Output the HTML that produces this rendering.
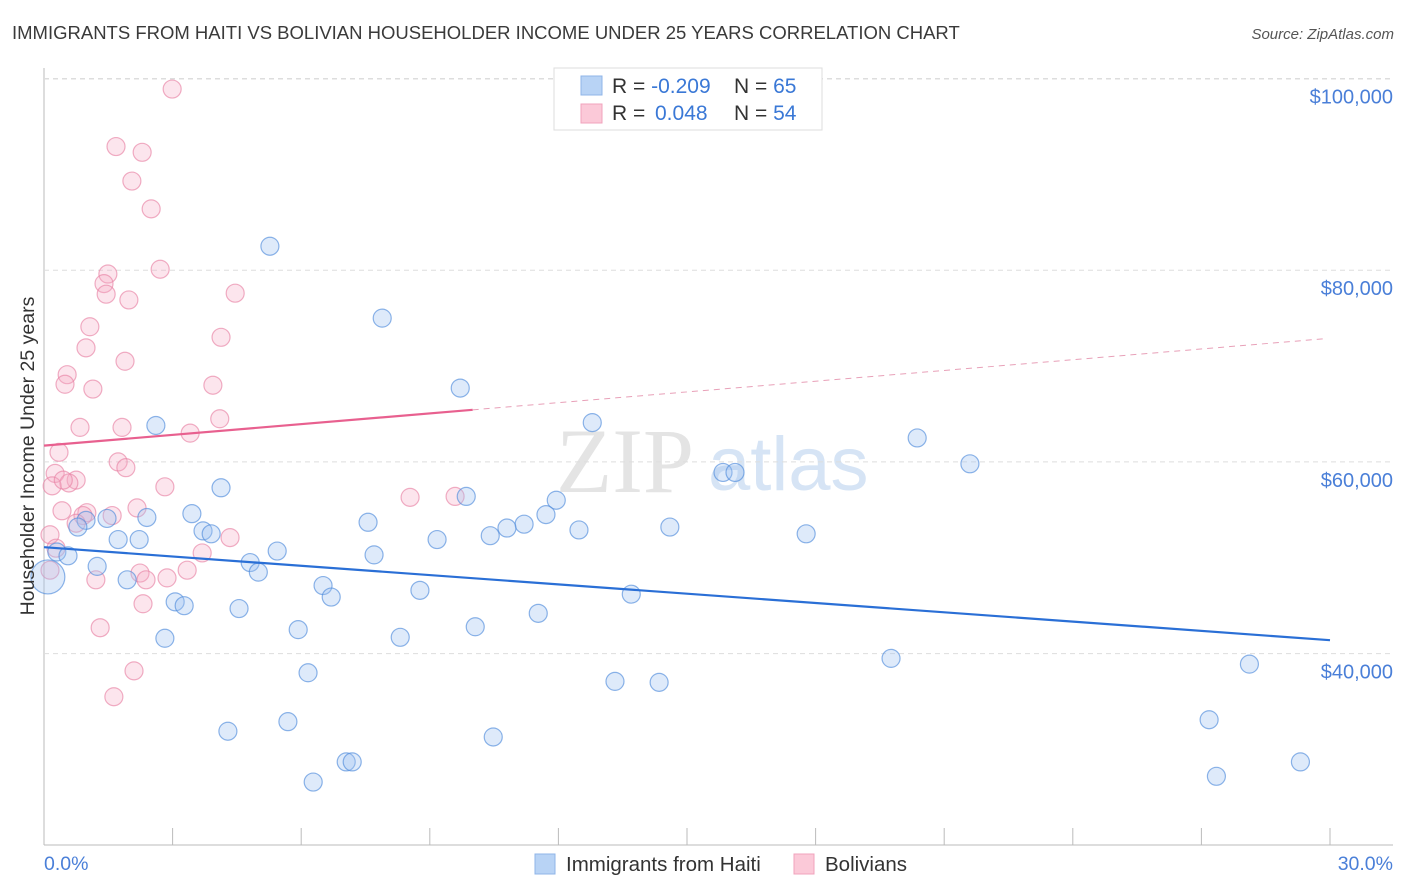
<!DOCTYPE html>
<html><head><meta charset="utf-8"><style>
body{margin:0;background:#fff;font-family:"Liberation Sans",sans-serif;}
svg{display:block}
</style></head><body>
<svg id="c" width="1406" height="892" xmlns="http://www.w3.org/2000/svg">
<text x="12" y="39" font-size="18.5" fill="#3a3a3a">IMMIGRANTS FROM HAITI VS BOLIVIAN HOUSEHOLDER INCOME UNDER 25 YEARS CORRELATION CHART</text>
<text x="1394" y="39" font-size="15" fill="#555" text-anchor="end" font-style="italic">Source: ZipAtlas.com</text>
<text x="556" y="492" font-size="92" fill="#e4e4e4" font-family="Liberation Serif,serif">ZIP</text>
<text x="708" y="490" font-size="76" fill="#d6e4f5">atlas</text>
<g id="grid"></g>
<g id="pts"></g>
<g id="trend"></g>
<text transform="translate(34,456) rotate(-90)" font-size="19.5" fill="#333" text-anchor="middle">Householder Income Under 25 years</text>
<text x="44" y="870" font-size="19.5" fill="#4a7fd8">0.0%</text>
<text x="1393" y="870" font-size="19.5" fill="#4a7fd8" text-anchor="end">30.0%</text>
<g>
<rect x="554" y="68" width="268" height="62" fill="#fff" stroke="#ddd"/>
<rect x="581" y="76" width="21" height="19" fill="#b8d3f5" stroke="#8fb5e8"/>
<rect x="581" y="104" width="21" height="19" fill="#fbc9d8" stroke="#f0a3bc"/>
<text x="612" y="93" font-size="21" fill="#333">R = <tspan fill="#3a78d6">-0.209</tspan></text>
<text x="734" y="93" font-size="21" fill="#333">N = <tspan fill="#3a78d6">65</tspan></text>
<text x="612" y="120" font-size="21" fill="#333">R = <tspan fill="#3a78d6" x="655">0.048</tspan></text>
<text x="734" y="120" font-size="21" fill="#333">N = <tspan fill="#3a78d6">54</tspan></text>
</g>
<g>
<rect x="535" y="854" width="20" height="20" fill="#b8d3f5" stroke="#8fb5e8"/>
<text x="566" y="871" font-size="20.5" fill="#333">Immigrants from Haiti</text>
<rect x="794" y="854" width="20" height="20" fill="#fbc9d8" stroke="#f0a3bc"/>
<text x="825" y="871" font-size="20.5" fill="#333">Bolivians</text>
</g>
</svg>
<script>
const yTicks=[40000,60000,80000,100000];
const yTickLabels=["$40,000","$60,000","$80,000","$100,000"];
const xTicks=[0,3,6,9,12,15,18,21,24,27,30];
const haitiX=[5.27,7.89,9.71,2.61,12.79,20.37,21.60,15.84,16.12,4.13,9.85,11.95,11.71,3.45,2.40,1.47,0.98,0.79,7.56,11.20,10.80,14.60,12.48,10.41,17.78,3.71,3.90,9.17,1.73,2.22,0.30,0.56,5.44,7.70,4.81,5.00,1.24,0.09,1.94,6.51,8.77,6.70,13.70,3.06,3.27,4.55,11.53,10.06,5.93,2.82,8.31,19.76,28.12,6.16,13.32,14.35,27.18,5.69,4.29,10.48,7.05,7.19,29.31,27.35,6.28];
const haitiY=[82.5,75.0,67.7,63.8,64.1,62.5,59.8,58.9,58.9,57.3,56.4,56.0,54.5,54.6,54.2,54.1,53.9,53.2,53.7,53.5,53.1,53.2,52.9,52.3,52.5,52.8,52.5,51.9,51.9,51.9,50.6,50.2,50.7,50.3,49.5,48.5,49.1,48.0,47.7,47.1,46.6,45.9,46.2,45.4,45.0,44.7,44.2,42.8,42.5,41.6,41.7,39.5,38.9,38.0,37.1,37.0,33.1,32.9,31.9,31.3,28.7,28.7,28.7,27.2,26.6];
const bolX=[2.99,1.68,2.29,2.05,2.50,2.71,1.49,1.40,1.45,1.98,4.46,1.07,4.13,0.98,1.89,0.54,0.49,1.14,3.94,4.10,0.84,1.82,3.41,0.35,1.73,1.91,0.26,0.75,0.58,0.19,2.82,8.54,9.59,2.17,0.42,1.00,0.91,1.59,0.75,4.34,0.14,0.28,3.69,2.24,3.34,2.87,2.38,1.21,0.14,2.31,1.31,2.10,1.63,0.45];
const bolY=[98.9,92.9,92.3,89.3,86.4,80.1,79.6,78.6,77.5,76.9,77.6,74.1,73.0,71.9,70.5,69.1,68.1,67.6,68.0,64.5,63.6,63.6,63.0,61.0,60.0,59.4,58.8,58.1,57.8,57.5,57.4,56.3,56.4,55.2,54.9,54.7,54.4,54.4,53.6,52.1,52.4,51.0,50.5,48.4,48.7,47.9,47.7,47.7,48.7,45.2,42.7,38.2,35.5,58.1];
const haitiTrend=[51.1,41.4];
const bolTrend=[61.7,72.9];
const bolSolidEnd=10;

const NS="http://www.w3.org/2000/svg";
const X=v=>44+v/30*1286;
const Y=v=>1037-v/20000*191.7;
function mk(t,a,p){const e=document.createElementNS(NS,t);for(const k in a)e.setAttribute(k,a[k]);p.appendChild(e);return e;}
const grid=document.getElementById('grid');
mk('line',{x1:44,y1:68,x2:44,y2:845,stroke:'#bbb'},grid);
mk('line',{x1:44,y1:845,x2:1393,y2:845,stroke:'#bbb'},grid);
yTicks.forEach((v,i)=>{
 const l=mk('line',{x1:44,y1:Y(v),x2:1393,y2:Y(v),stroke:'#ddd','stroke-dasharray':'5,4'},grid);
 
 
 const t=mk('text',{x:1393,y:Y(v)+25,'font-size':20,fill:'#4a7fd8','text-anchor':'end'},grid);
 t.textContent=yTickLabels[i];
 
 
});
mk('line',{x1:44,y1:79,x2:1393,y2:79,stroke:'#ddd','stroke-dasharray':'5,4'},grid);
xTicks.forEach(v=>{
 const l=mk('line',{x1:X(v),y1:828,x2:X(v),y2:845,stroke:'#bbb'},grid);
 
 
});
const pts=document.getElementById('pts');
bolX.forEach((x,i)=>{
 const c=mk('circle',{cx:X(x),cy:Y(bolY[i]*1000),r:9,fill:'rgba(246,170,196,0.3)',stroke:'rgba(232,130,165,0.65)','stroke-width':1.2},pts);
 
 
});
haitiX.forEach((x,i)=>{
 const c=mk('circle',{cx:X(x),cy:Y(haitiY[i]*1000),r:i==37?17:9,fill:'rgba(160,196,240,0.35)',stroke:'rgba(80,140,220,0.65)','stroke-width':1.2},pts);
 
 
});
const tr=document.getElementById('trend');
const hl=mk('line',{x1:X(0),y1:Y(haitiTrend[0]*1000),x2:X(30),y2:Y(haitiTrend[1]*1000),stroke:'#2a6fd6','stroke-width':2.2},tr);


const bAt=x=>bolTrend[0]+(bolTrend[1]-bolTrend[0])*x/30;
const bl=mk('line',{x1:X(0),y1:Y(bAt(0)*1000),x2:X(bolSolidEnd),y2:Y(bAt(bolSolidEnd)*1000),stroke:'#e8608f','stroke-width':2.2},tr);


const bd=mk('line',{x1:X(bolSolidEnd),y1:Y(bAt(bolSolidEnd)*1000),x2:X(29.9),y2:Y(bAt(29.9)*1000),stroke:'#e8a0b8','stroke-width':1,'stroke-dasharray':'6,5'},tr);


</script>
</body></html>
